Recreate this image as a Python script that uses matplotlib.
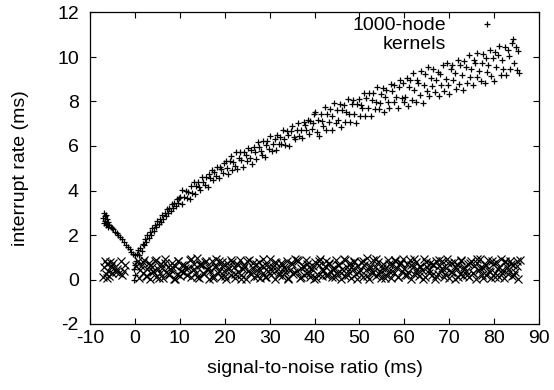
import matplotlib
matplotlib.use("Agg")
import matplotlib.pyplot as plt
from matplotlib.lines import Line2D

plt.rcParams["font.family"] = ["Liberation Sans", "DejaVu Sans"]
plt.rcParams["font.size"] = 14
plt.rcParams["axes.unicode_minus"] = False

# =========================
# data: "1000-node kernels" (+)
# =========================
kern_left_x = [-7.1, -6.9, -6.8, -6.7, -6.6, -6.5, -6.4, -6.3, -6.2, -6.1, -5.9,
               -5.7, -5.4, -5.1, -4.8, -4.4, -4.0, -3.7, -3.3, -2.9, -2.5, -2.0,
               -1.6, -1.2, -0.8, -0.4, 0.0,
               -0.2, 0.0, -0.1, 0.1, 0.2]
kern_left_y = [2.75, 3.0, 2.55, 2.85, 2.65, 2.9, 2.45, 2.7, 2.5, 2.6, 2.35,
               2.45, 2.35, 2.3, 2.25, 2.15, 2.1, 2.02, 1.9, 1.8, 1.68, 1.55,
               1.45, 1.35, 1.25, 1.15, 1.1,
               0.0, 0.2, 0.45, 0.65, 0.85]

kern_rise_x = [0.4, 0.7, 0.9, 1.2, 1.5, 1.7, 2.0, 2.3, 2.5, 2.8, 3.1, 3.3, 3.6,
               3.9, 4.2, 4.4, 4.7, 5.0, 5.3, 5.5, 5.8, 6.1, 6.3, 6.6, 6.9, 7.2,
               7.4, 7.7, 8.0, 8.3, 8.5, 8.8, 9.1, 9.4, 9.6, 9.9,
               10.1, 10.4, 10.6, 11.0, 11.3, 11.5, 11.9, 12.2, 12.4, 12.8,
               13.1, 13.3, 13.7, 14.1, 14.3, 14.6, 15.0, 15.2, 15.6, 15.9,
               16.2, 16.4, 16.8, 17.1, 17.4, 17.7, 18.0, 18.3, 18.7, 19.0,
               19.2, 19.6, 19.9]
kern_rise_y = [1.15, 1.32, 1.1, 1.42, 1.28, 1.58, 1.55, 1.82, 1.7, 1.98, 1.85,
               2.12, 2.0, 2.3, 2.18, 2.45, 2.35, 2.62, 2.48, 2.72, 2.6, 2.92,
               2.74, 3.0, 2.86, 3.15, 2.98, 3.22, 3.1, 3.4, 3.2, 3.45, 3.32,
               3.62, 3.42, 3.66,
               3.72, 3.38, 4.01, 3.72, 4.00, 3.65, 3.92, 3.61, 4.20, 3.91,
               4.38, 3.85, 4.21, 4.37, 4.15, 4.01, 4.61, 4.36, 4.25, 4.60,
               4.17, 4.76, 4.56, 4.93, 4.48, 4.81, 4.64, 5.06, 4.56, 5.06,
               4.95, 4.78, 5.23]

kern_mid_x = [20.2, 20.5, 20.7, 21.1, 21.4, 21.6, 21.9, 22.3, 22.5, 22.8,
              23.2, 23.5, 23.7, 24.0, 24.4, 24.7, 24.9, 25.3, 25.6, 25.9,
              26.1, 26.5, 26.8, 27.0, 27.4, 27.7, 28.0, 28.3, 28.6, 28.9,
              29.3, 29.5, 29.8, 30.2, 30.5, 30.7, 31.1, 31.4, 31.7, 32.0,
              32.3, 32.6, 33.0, 33.2, 33.5, 33.9, 34.2, 34.4, 34.8, 35.1,
              35.4, 35.7, 36.0, 36.3, 36.6, 37.0, 37.2, 37.6, 37.9, 38.1,
              38.5, 38.8, 39.1, 39.4, 39.7, 39.9,
              40.2, 40.5, 40.8, 41.0, 41.4, 41.7, 41.9, 42.3, 42.6, 42.8,
              43.2, 43.5, 43.8, 44.0, 44.4, 44.7, 44.9, 45.3, 45.6, 45.8,
              46.2, 46.5, 46.8, 47.1, 47.4, 47.6, 48.0, 48.3, 48.6, 48.9,
              49.2, 49.5, 49.8, 50.1, 50.4, 50.6, 51.0, 51.3, 51.5, 51.9,
              52.2, 52.5, 52.8, 53.0, 53.4, 53.7, 54.0, 54.3, 54.5, 54.9,
              55.2, 55.5, 55.8, 56.0, 56.4, 56.7, 57.0, 57.3, 57.6, 57.8,
              58.2, 58.5, 58.8, 59.1, 59.4, 59.7, 59.9]
kern_mid_y = [5.34, 5.01, 4.72, 5.32, 5.57, 4.94, 5.29, 5.09, 5.72, 4.98,
              5.47, 5.71, 5.39, 5.06, 5.71, 5.58, 5.31, 5.93, 5.47, 5.81,
              5.21, 5.97, 5.71, 5.42, 6.18, 5.94, 5.76, 5.61, 6.23, 5.52,
              6.05, 6.23, 5.85, 6.47, 5.78, 6.11, 6.33, 5.80, 6.51, 6.11,
              6.41, 6.08, 6.70, 6.30, 6.06, 6.68, 6.50, 6.02, 6.67, 6.88,
              6.42, 6.31, 6.72, 7.05, 6.45, 6.71, 6.35, 7.06, 6.94, 6.72,
              7.19, 6.54, 7.14, 6.76, 7.02, 7.42,
              7.53, 6.65, 7.19, 6.45, 7.43, 7.12, 6.88, 7.76, 6.70, 7.43,
              7.10, 7.67, 6.73, 7.36, 7.94, 7.02, 7.62, 7.19, 7.90, 6.84,
              7.61, 7.83, 7.07, 7.54, 8.09, 7.45, 7.06, 7.89, 8.08, 7.42,
              7.05, 7.89, 8.10, 7.37, 7.85, 7.71, 8.39, 7.37, 8.16, 7.70,
              8.40, 7.36, 8.06, 8.36, 7.68, 7.99, 8.64, 7.65, 7.92, 8.34,
              8.59, 7.54, 8.22, 8.52, 7.96, 7.72, 8.78, 8.45, 7.96, 8.75,
              8.22, 7.72, 8.65, 8.97, 8.15, 8.82, 7.99]

kern_top_x = [60.2, 60.5, 60.8, 61.1, 61.3, 61.7, 62.0, 62.2, 62.6, 62.9,
              63.1, 63.5, 63.8, 64.1, 64.3, 64.7, 65.0, 65.3, 65.5, 65.9,
              66.2, 66.4, 66.8, 67.1, 67.4, 67.7, 68.0, 68.2, 68.6, 68.9,
              69.2, 69.5, 69.8, 70.0, 70.4, 70.7, 70.9, 71.3, 71.6, 71.9,
              72.1, 72.5, 72.8, 73.1, 73.3, 73.7, 74.0, 74.3, 74.6, 74.8,
              75.2, 75.5, 75.8, 76.1, 76.3, 76.7, 77.0, 77.2, 77.6, 77.9,
              78.2, 78.5, 78.7, 79.1, 79.4, 79.7, 80.0, 80.3, 80.5, 80.9,
              81.2, 81.5, 81.8, 82.0, 82.4, 82.7, 83.0, 83.3, 83.5, 83.9,
              84.2, 84.5, 84.8, 85.1, 85.4, 85.6]
kern_top_y = [8.22, 9.04, 7.78, 8.64, 8.97, 8.07, 9.29, 8.51, 7.97, 8.95,
              8.84, 8.31, 9.36, 7.94, 8.75, 9.22, 8.48, 9.54, 8.23, 9.05,
              8.71, 9.44, 8.43, 8.97, 9.31, 8.24, 9.22, 8.75, 9.62, 8.48,
              9.02, 9.75, 8.73, 8.35, 9.45, 9.63, 8.96, 9.30, 8.56, 9.86,
              8.79, 9.66, 9.20, 8.50, 9.83, 9.53, 8.83, 10.09, 9.11, 9.48,
              8.74, 9.88, 9.74, 9.08, 10.17, 9.36, 8.94, 9.71, 10.13, 8.83,
              9.97, 9.31, 9.64, 10.30, 9.16, 9.94, 8.92, 10.22, 9.55, 10.10,
              10.51, 9.17, 9.87, 9.48, 10.47, 9.17, 10.30, 10.04, 9.46, 10.64,
              10.82, 9.72, 10.46, 9.43, 10.25, 9.30]

kern_x = kern_left_x + kern_rise_x + kern_mid_x + kern_top_x
kern_y = kern_left_y + kern_rise_y + kern_mid_y + kern_top_y

# =========================
# data: second series (x), flat band near zero
# =========================
base_x = [
    -7.0, -6.8, -6.7, -6.5, -6.3, -6.2, -6.0, -5.8, -5.6, -5.4,
    -5.1, -4.9, -4.6, -4.3, -4.0, -3.6, -3.2, -2.8, -2.4, -2.1,
    0.3, 0.6,
    1.0, 1.3, 1.7, 2.0, 2.4, 2.7, 3.1, 3.4, 3.8, 4.1,
    4.5, 4.8, 5.2, 5.5, 5.9, 6.2, 6.6, 6.9, 7.3, 7.6,
    8.0, 8.3, 8.7, 9.0, 9.4, 9.7, 10.1, 10.4, 10.8, 11.1,
    11.5, 11.8, 12.2, 12.5, 12.9, 13.2, 13.6, 13.9, 14.3, 14.6,
    15.0, 15.3, 15.7, 16.0, 16.4, 16.7, 17.1, 17.4, 17.8, 18.1,
    18.5, 18.8, 19.2, 19.5, 19.9, 20.2, 20.6, 20.9, 21.3, 21.6,
    22.0, 22.3, 22.7, 23.0, 23.4, 23.7, 24.1, 24.4, 24.8, 25.1,
    25.5, 25.8, 26.2, 26.5, 26.9, 27.2, 27.6, 27.9, 28.3, 28.6,
    29.0, 29.3, 29.7, 30.0, 30.4, 30.7, 31.1, 31.4, 31.8, 32.1,
    32.5, 32.8, 33.2, 33.5, 33.9, 34.2, 34.6, 34.9, 35.3, 35.6,
    36.0, 36.3, 36.7, 37.0, 37.4, 37.7, 38.1, 38.4, 38.8, 39.1,
    39.5, 39.8, 40.2, 40.5, 40.9, 41.2, 41.6, 41.9, 42.3, 42.6,
    43.0, 43.3, 43.7, 44.0, 44.4, 44.7, 45.1, 45.4, 45.8, 46.1,
    46.5, 46.8, 47.2, 47.5, 47.9, 48.2, 48.6, 48.9, 49.3, 49.6,
    50.0, 50.3, 50.7, 51.0, 51.4, 51.7, 52.1, 52.4, 52.8, 53.1,
    53.5, 53.8, 54.2, 54.5, 54.9, 55.2, 55.6, 55.9, 56.3, 56.6,
    57.0, 57.3, 57.7, 58.0, 58.4, 58.7, 59.1, 59.4, 59.8, 60.1,
    60.5, 60.8, 61.2, 61.5, 61.9, 62.2, 62.6, 62.9, 63.3, 63.6,
    64.0, 64.3, 64.7, 65.0, 65.4, 65.7, 66.1, 66.4, 66.8, 67.1,
    67.5, 67.8, 68.2, 68.5, 68.9, 69.2, 69.6, 69.9, 70.3, 70.6,
    71.0, 71.3, 71.7, 72.0, 72.4, 72.7, 73.1, 73.4, 73.8, 74.1,
    74.5, 74.8, 75.2, 75.5, 75.9, 76.2, 76.6, 76.9, 77.3, 77.6,
    78.0, 78.3, 78.7, 79.0, 79.4, 79.7, 80.1, 80.4, 80.8, 81.1,
    81.5, 81.8, 82.2, 82.5, 82.9, 83.2, 83.6, 83.9, 84.3, 84.6,
    85.0, 85.3, 85.7,
    1.2, 1.9, 2.6, 3.3, 4.0, 4.7, 5.4, 6.1, 6.8, 7.5,
    8.2, 8.9, 9.6, 10.3, 11.0, 11.7, 12.4, 13.1, 13.8, 14.5,
    15.2, 15.9, 16.6, 17.3, 18.0, 18.7, 19.4, 20.1, 20.8, 21.5,
    22.2, 22.9, 23.6, 24.3, 25.0, 25.7, 26.4, 27.1, 27.8, 28.5,
    29.2, 29.9, 30.6, 31.3, 32.0, 32.7, 33.4, 34.1, 34.8, 35.5,
    36.2, 36.9, 37.6, 38.3, 39.0, 39.7, 40.4, 41.1, 41.8, 42.5,
    43.2, 43.9, 44.6, 45.3, 46.0, 46.7, 47.4, 48.1, 48.8, 49.5,
    50.2, 50.9, 51.6, 52.3, 53.0, 53.7, 54.4, 55.1, 55.8, 56.5,
    57.2, 57.9, 58.6, 59.3, 60.0, 60.7, 61.4, 62.1, 62.8, 63.5,
    64.2, 64.9, 65.6, 66.3, 67.0, 67.7, 68.4, 69.1, 69.8, 70.5,
    71.2, 71.9, 72.6, 73.3, 74.0, 74.7, 75.4, 76.1, 76.8, 77.5,
    78.2, 78.9, 79.6, 80.3, 81.0, 81.7, 82.4, 83.1, 83.8, 84.5,
    85.2,
]
base_y = [
    0.10, 0.55, 0.85, 0.25, 0.05, 0.70, 0.40, 0.15, 0.80, 0.60,
    0.30, 0.75, 0.50, 0.35, 0.45, 0.30, 0.85, 0.20, 0.40, 0.65,
    0.60, 0.85,
    0.05, 0.62, 0.31, 0.88, 0.17, 0.45, 0.73, 0.02, 0.55, 0.38,
    0.81, 0.12, 0.49, 0.27, 0.69, 0.08, 0.92, 0.35, 0.58, 0.21,
    0.44, 0.76, 0.03, 0.59, 0.26, 0.85, 0.14, 0.67, 0.33, 0.51,
    0.19, 0.53, 0.87, 0.09, 0.41, 0.71, 0.28, 0.95, 0.06, 0.64,
    0.66, 0.24, 0.78, 0.47, 0.01, 0.36, 0.83, 0.15, 0.57, 0.90,
    0.29, 0.84, 0.11, 0.61, 0.40, 0.04, 0.74, 0.50, 0.22, 0.80,
    0.55, 0.07, 0.70, 0.32, 0.89, 0.18, 0.46, 0.63, 0.02, 0.37,
    0.86, 0.23, 0.52, 0.13, 0.68, 0.42, 0.79, 0.05, 0.60, 0.30,
    0.12, 0.65, 0.39, 0.91, 0.20, 0.56, 0.03, 0.75, 0.48, 0.27,
    0.72, 0.16, 0.58, 0.34, 0.85, 0.08, 0.43, 0.69, 0.25, 0.94,
    0.37, 0.81, 0.06, 0.50, 0.62, 0.19, 0.88, 0.31, 0.54, 0.10,
    0.47, 0.03, 0.77, 0.26, 0.66, 0.90, 0.14, 0.41, 0.59, 0.83,
    0.21, 0.70, 0.35, 0.09, 0.52, 0.87, 0.28, 0.63, 0.01, 0.45,
    0.92, 0.17, 0.56, 0.39, 0.74, 0.06, 0.49, 0.82, 0.24, 0.61,
    0.33, 0.78, 0.12, 0.67, 0.44, 0.95, 0.04, 0.53, 0.29, 0.86,
    0.58, 0.15, 0.80, 0.36, 0.07, 0.71, 0.48, 0.22, 0.89, 0.40,
    0.05, 0.64, 0.27, 0.84, 0.51, 0.11, 0.73, 0.38, 0.93, 0.18,
    0.69, 0.32, 0.87, 0.02, 0.57, 0.24, 0.79, 0.46, 0.14, 0.62,
    0.43, 0.90, 0.09, 0.54, 0.30, 0.76, 0.20, 0.66, 0.04, 0.85,
    0.26, 0.60, 0.37, 0.81, 0.13, 0.50, 0.94, 0.07, 0.72, 0.34,
    0.78, 0.03, 0.47, 0.65, 0.23, 0.88, 0.16, 0.55, 0.39, 0.70,
    0.10, 0.83, 0.31, 0.59, 0.01, 0.74, 0.44, 0.91, 0.21, 0.52,
    0.63, 0.19, 0.86, 0.35, 0.08, 0.68, 0.27, 0.80, 0.49, 0.12,
    0.90, 0.41, 0.05, 0.77, 0.57, 0.25, 0.84, 0.14, 0.66, 0.32,
    0.82, 0.04, 0.89,
    0.42, 0.78, 0.15, 0.63, 0.34, 0.86, 0.08, 0.51, 0.72, 0.23,
    0.57, 0.02, 0.81, 0.38, 0.66, 0.19, 0.90, 0.45, 0.11, 0.70,
    0.28, 0.84, 0.53, 0.06, 0.61, 0.36, 0.79, 0.14, 0.48, 0.88,
    0.25, 0.67, 0.03, 0.56, 0.83, 0.31, 0.74, 0.17, 0.44, 0.92,
    0.09, 0.59, 0.37, 0.80, 0.21, 0.68, 0.46, 0.01, 0.76, 0.33,
    0.87, 0.13, 0.54, 0.71, 0.27, 0.62, 0.05, 0.85, 0.40, 0.18,
    0.73, 0.49, 0.10, 0.65, 0.30, 0.89, 0.22, 0.58, 0.77, 0.04,
    0.43, 0.82, 0.16, 0.60, 0.35, 0.93, 0.26, 0.52, 0.07, 0.69,
    0.39, 0.86, 0.12, 0.75, 0.47, 0.20, 0.64, 0.91, 0.29, 0.55,
    0.02, 0.79, 0.41, 0.68, 0.15, 0.87, 0.50, 0.24, 0.72, 0.34,
    0.60, 0.09, 0.83, 0.45, 0.19, 0.76, 0.31, 0.90, 0.53, 0.06,
    0.67, 0.38, 0.81, 0.13, 0.57, 0.28, 0.85, 0.44, 0.71, 0.18,
    0.62,
]

x_ticks = [-10, 0, 10, 20, 30, 40, 50, 60, 70, 80, 90]
y_ticks = [-2, 0, 2, 4, 6, 8, 10, 12]

fig = plt.figure(figsize=(5.54, 3.90), dpi=100)
ax = fig.add_axes([90 / 554, 66 / 390, 449 / 554, 311.5 / 390])

ax.plot(base_x, base_y, linestyle="none", marker="x", color="black",
        markersize=5.4, markeredgewidth=0.85)
ax.plot(kern_x, kern_y, linestyle="none", marker="+", color="black",
        markersize=5, markeredgewidth=0.9)

ax.set_xlim(-10, 90)
ax.set_ylim(-2, 12)
ax.set_xticks(x_ticks)
ax.set_yticks(y_ticks)
ax.tick_params(direction="in", top=True, right=True, length=4, width=0.8,
               labelsize=14)
ax.tick_params(axis="x", pad=4)
ax.tick_params(axis="y", pad=8)
for s in ax.spines.values():
    s.set_linewidth(0.9)

ax.set_xlabel("signal-to-noise ratio (ms)", fontsize=14, labelpad=10)
ax.set_ylabel("interrupt rate (ms)", fontsize=14, labelpad=20)

# key: sample on the right of the text, gnuplot style
key_handles = [
    Line2D([], [], linestyle="none", marker="+", color="black",
           markersize=5, markeredgewidth=0.9),
    Line2D([], [], linestyle="none"),
]
ax.legend(key_handles, ["1000-node", "kernels"], markerfirst=False,
          loc="upper right", bbox_to_anchor=(0.927, 0.986), frameon=False,
          borderpad=0, borderaxespad=0, handlelength=2, handletextpad=1.1,
          labelspacing=0.05, fontsize=14)

fig.savefig("out.png", dpi=100)
